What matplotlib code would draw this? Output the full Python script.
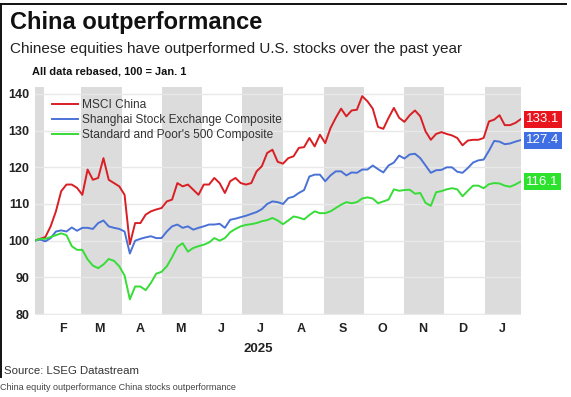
import matplotlib
matplotlib.use("Agg")
import matplotlib.pyplot as plt
import pandas as pd
from matplotlib.lines import Line2D

# ---------------- data ----------------
dates = pd.date_range("2025-01-25", periods=93, freq="4D")

msci_china = [100.0, 100.5, 101.0, 103.9, 108.0, 113.5, 115.3, 115.3, 114.4, 112.5,
              119.4, 116.6, 117.1, 122.5, 116.6, 115.7, 114.8, 112.5, 99.0, 104.8,
              104.8, 107.1, 108.0, 108.5, 108.9, 110.7, 111.2, 115.7, 114.8, 115.3,
              113.9, 112.5, 115.3, 115.3, 117.1, 115.7, 113.0, 116.2, 117.1, 115.7,
              115.3, 115.7, 118.9, 120.3, 123.9, 124.8, 121.5, 121.0, 122.5, 123.0,
              125.3, 125.5, 128.0, 125.7, 128.9, 126.6, 130.7, 133.5, 136.0, 133.9,
              135.5, 135.7, 139.4, 138.0, 136.0, 131.0, 130.5, 133.5, 136.2, 133.5,
              132.4, 134.2, 135.5, 133.9, 129.8, 127.5, 129.1, 129.6, 129.1, 128.7,
              128.0, 126.0, 127.3, 127.5, 127.5, 128.0, 132.5, 133.0, 134.2, 131.5,
              131.5, 132.1, 133.1]

shanghai = [100.0, 100.3, 99.8, 100.7, 102.5, 102.8, 102.5, 103.6, 102.7, 103.5,
            103.5, 103.2, 104.8, 105.5, 103.9, 103.5, 103.2, 102.5, 96.5, 100.0,
            100.5, 100.9, 101.2, 100.7, 100.7, 102.5, 103.9, 104.4, 103.5, 103.9,
            103.0, 103.5, 103.9, 104.4, 104.4, 104.6, 103.5, 105.7, 106.0, 106.4,
            106.8, 107.3, 107.8, 108.6, 110.0, 110.7, 110.5, 110.0, 111.6, 112.0,
            113.0, 113.8, 117.5, 118.0, 118.0, 116.2, 117.8, 118.9, 118.9, 117.8,
            118.6, 118.5, 119.4, 119.4, 120.5, 119.5, 118.6, 120.5, 121.3, 123.2,
            122.4, 123.5, 123.7, 122.5, 120.5, 118.5, 119.2, 119.3, 120.0, 120.0,
            118.8, 118.5, 119.8, 121.3, 121.9, 122.1, 124.5, 127.2, 127.0, 126.3,
            126.5, 127.0, 127.4]

sp500 = [100.0, 100.5, 100.5, 101.0, 101.5, 102.0, 101.5, 98.5, 97.5, 97.5,
         94.9, 93.2, 92.5, 93.5, 95.0, 94.5, 93.0, 90.5, 84.0, 87.5,
         87.5, 86.5, 88.5, 91.0, 91.5, 93.0, 95.5, 98.3, 99.3, 97.0,
         98.0, 98.5, 98.9, 99.5, 100.7, 100.0, 100.7, 102.3, 103.2, 103.9,
         104.3, 104.5, 104.8, 105.3, 105.6, 106.2, 105.5, 104.5, 105.5, 106.6,
         106.3, 105.8, 107.0, 108.0, 107.5, 107.5, 108.0, 108.9, 109.8, 110.5,
         110.2, 110.5, 111.5, 111.8, 111.5, 110.2, 110.7, 111.2, 114.0, 113.6,
         113.8, 113.9, 112.8, 113.0, 110.3, 109.5, 113.2, 113.5, 114.0, 114.3,
         114.0, 112.1, 113.6, 115.0, 115.0, 114.3, 115.4, 115.7, 115.6, 115.0,
         114.7, 115.3, 116.1]

series_names = ["MSCI China", "Shanghai Stock Exchange Composite",
                "Standard and Poor's 500 Composite"]
end_labels = ["133.1", "127.4", "116.1"]
month_letters = ["F", "M", "A", "M", "J", "J", "A", "S", "O", "N", "D", "J"]
y_ticks = [80, 90, 100, 110, 120, 130, 140]

line_colors = ["#d91e24", "#4a72d6", "#38dc38"]
box_colors = ["#e8141e", "#3f6fe2", "#2ce22c"]

SANS = ["Liberation Sans", "DejaVu Sans"]

# ---------------- figure ----------------
W, H = 571, 397
fig = plt.figure(figsize=(W / 100, H / 100), dpi=100)
fig.patch.set_facecolor("white")

ax_left, ax_right, ax_top, ax_bot = 34.8, 520.6, 87, 315
ax = fig.add_axes([ax_left / W, 1 - ax_bot / H, (ax_right - ax_left) / W, (ax_bot - ax_top) / H])
ax.set_facecolor("white")
ax.set_xlim(dates[0], dates[-1])
ax.set_ylim(79.73, 141.9)

# alternating month bands
band_starts = pd.date_range("2025-01-01", "2026-01-01", freq="2MS")
for s in band_starts:
    e = s + pd.offsets.MonthBegin(1)
    ax.axvspan(s, e, color="#dcdcdc", lw=0, zorder=0)

ax.set_axisbelow(True)
ax.set_yticks(y_ticks)
ax.yaxis.grid(True, color="#e8e8e8", lw=1.0)
for sp in ax.spines.values():
    sp.set_visible(False)

# month labels at mid-month
mids = [pd.Timestamp(2025, m, 15) for m in range(2, 13)]
mids.append(pd.Timestamp("2026-01-01") + (dates[-1] - pd.Timestamp("2026-01-01")) / 2)
ax.set_xticks(mids)
ax.set_xticklabels(month_letters)
ax.tick_params(axis="both", length=0, labelsize=9, labelcolor="#222222")
ax.tick_params(axis="x", pad=6)
ax.tick_params(axis="y", pad=4)
for lab in ax.get_xticklabels() + ax.get_yticklabels():
    lab.set_fontweight("bold")
    lab.set_family(SANS)

handles = []
for vals, c, name in zip([msci_china, shanghai, sp500], line_colors, series_names):
    h, = ax.plot(dates, vals, color=c, lw=1.4, zorder=3, label=name)
    handles.append(h)

leg = ax.legend(handles=handles, loc="upper left", bbox_to_anchor=(0.02, 0.98),
                frameon=False, handlelength=2.2, handletextpad=0.35,
                labelspacing=0.25, borderaxespad=0.2,
                prop={"family": SANS, "size": 8.6})
for t in leg.get_texts():
    t.set_color("#333333")

# end value boxes
for vals, lab, bc in zip([msci_china, shanghai, sp500], end_labels, box_colors):
    ax.annotate(lab, xy=(dates[-1], vals[-1]), xytext=(4, 0), textcoords="offset points",
                ha="left", va="center", color="white", fontsize=9.5, family=SANS,
                bbox=dict(boxstyle="square,pad=0.2", fc=bc, ec="none"),
                annotation_clip=False, zorder=5)

# texts
fig.text(10 / W, 1 - 23 / H, "China outperformance", fontsize=17, fontweight="bold",
         va="center", ha="left", color="#111111", family=SANS)
fig.text(10 / W, 1 - 49 / H, "Chinese equities have outperformed U.S. stocks over the past year",
         fontsize=11, va="center", ha="left", color="#222222", family=SANS)
fig.text(32 / W, 1 - 71 / H, "All data rebased, 100 = Jan. 1", fontsize=7.9, va="center",
         ha="left", color="#111111", fontweight="bold", family=SANS)
fig.text(258 / W, 1 - 349 / H, "2025", fontsize=9.5, fontweight="bold", va="center",
         ha="center", color="#222222", family=SANS)
fig.text(4 / W, 1 - 371 / H, "Source: LSEG Datastream", fontsize=8.2, va="center",
         ha="left", color="#333333", family=SANS)
fig.text(0 / W, 1 - 388 / H, "China equity outperformance China stocks outperformance",
         fontsize=6.5, va="center", ha="left", color="#444444", family=SANS)

# frame lines (left and top)
fig.add_artist(Line2D([1.2 / W, 1.2 / W], [1 - 4 / H, 1 - 377 / H], color="#111111", lw=1.4))
fig.add_artist(Line2D([1.2 / W, 566 / W], [1 - 4 / H, 1 - 4 / H], color="#111111", lw=1.4))

fig.savefig("out.png", dpi=100, facecolor="white")
